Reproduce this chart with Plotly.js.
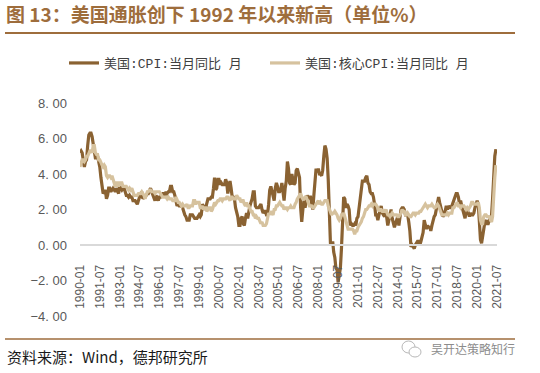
<!DOCTYPE html>
<html><head><meta charset="utf-8">
<script src="https://cdn.plot.ly/plotly-3.0.1.min.js"></script>
<style>html,body{margin:0;padding:0;background:#fff}#chart{width:540px;height:373px}</style>
</head><body><div id="chart"></div>
<script>
// Monthly data, starting 1990-01
const startYear = 1990;
const seriesNames = ['美国:CPI:当月同比 月', '美国:核心CPI:当月同比 月'];
const cpi = [
 5.2,5.3,5.2,4.7,4.4,4.7,4.8,5.6,6.2,6.3,6.3,6.1,
 5.7,5.3,4.9,4.9,5.0,4.7,4.4,3.8,3.4,2.9,3.0,3.1,
 2.6,2.8,3.2,3.2,3.0,3.1,3.2,3.1,3.0,3.2,3.0,2.9,
 3.3,3.2,3.1,3.2,3.2,3.0,2.8,2.8,2.7,2.8,2.7,2.7,
 2.5,2.5,2.5,2.4,2.3,2.5,2.8,2.9,3.0,2.6,2.7,2.7,
 2.8,2.9,2.9,3.1,3.2,3.0,2.8,2.6,2.5,2.8,2.6,2.5,
 2.7,2.7,2.8,2.9,2.9,2.8,3.0,2.9,3.0,3.0,3.3,3.3,
 3.0,3.0,2.8,2.5,2.2,2.3,2.2,2.2,2.2,2.1,1.8,1.7,
 1.6,1.4,1.4,1.4,1.7,1.7,1.7,1.6,1.5,1.5,1.5,1.6,
 1.7,1.6,1.7,2.3,2.1,2.0,2.1,2.3,2.6,2.6,2.6,2.7,
 2.7,3.2,3.8,3.1,3.2,3.7,3.7,3.4,3.5,3.4,3.4,3.4,
 3.7,3.5,2.9,3.3,3.6,3.2,2.7,2.7,2.6,2.1,1.9,1.6,
 1.1,1.1,1.5,1.6,1.2,1.1,1.5,1.8,1.5,2.0,2.2,2.4,
 2.6,3.0,3.0,2.2,2.1,2.1,2.1,2.2,2.3,2.0,1.8,1.9,
 1.9,1.7,1.7,2.3,3.1,3.3,3.0,2.7,2.5,3.2,3.5,3.3,
 3.0,3.0,3.1,3.5,2.8,2.5,3.2,3.6,4.7,4.3,3.5,3.4,
 4.0,3.6,3.4,3.5,4.2,4.3,4.1,3.8,2.1,1.3,2.0,2.5,
 2.1,2.4,2.8,2.6,2.7,2.7,2.4,2.0,2.8,3.5,4.3,4.1,
 4.3,4.0,4.0,3.9,4.2,5.0,5.6,5.4,4.9,3.7,1.1,0.1,
 0.0,0.2,-0.4,-0.7,-1.3,-1.4,-2.1,-1.5,-1.3,-0.2,1.8,2.7,
 2.6,2.1,2.3,2.2,2.0,1.1,1.2,1.1,1.1,1.2,1.1,1.5,
 1.6,2.1,2.7,3.2,3.6,3.6,3.6,3.8,3.9,3.5,3.4,3.0,
 2.9,2.9,2.7,2.3,1.7,1.7,1.4,1.7,2.0,2.2,1.8,1.7,
 1.6,2.0,1.5,1.1,1.4,1.8,2.0,1.5,1.2,1.0,1.2,1.5,
 1.6,1.1,1.5,2.0,2.1,2.1,2.0,1.7,1.7,1.7,1.3,0.8,
 -0.1,0.0,-0.1,-0.2,0.0,0.1,0.2,0.2,0.0,0.2,0.5,0.7,
 1.4,1.0,0.9,1.1,1.0,1.0,0.8,1.1,1.5,1.6,1.7,2.1,
 2.5,2.7,2.4,2.2,1.9,1.6,1.7,1.9,2.2,2.0,2.2,2.1,
 2.1,2.2,2.4,2.5,2.8,2.9,2.9,2.7,2.3,2.5,2.2,1.9,
 1.6,1.5,1.9,2.0,1.8,1.6,1.8,1.7,1.7,1.8,2.1,2.3,
 2.5,2.3,1.5,0.3,0.1,0.6,1.0,1.3,1.4,1.2,1.2,1.4,
 1.4,1.7,2.6,4.2,5.0,5.4
];
const coreCpi = [
 4.4,4.6,4.8,4.8,4.7,4.8,5.0,5.0,5.2,5.3,5.3,5.2,
 5.6,5.6,5.2,5.1,5.1,4.8,4.8,4.6,4.5,4.4,4.5,4.4,
 3.9,3.8,3.9,3.9,3.8,3.9,3.7,3.5,3.3,3.5,3.5,3.3,
 3.5,3.5,3.5,3.3,3.3,3.3,3.3,3.2,3.1,3.2,3.1,3.2,
 2.9,2.8,2.8,2.8,2.8,2.9,2.9,2.9,3.0,2.9,2.8,2.6,
 2.9,3.0,3.0,3.1,3.1,3.0,3.0,3.0,2.9,3.0,3.0,3.0,
 3.0,2.9,2.8,2.7,2.7,2.7,2.7,2.6,2.7,2.6,2.6,2.6,
 2.5,2.5,2.5,2.7,2.5,2.4,2.4,2.3,2.2,2.3,2.2,2.2,
 2.2,2.3,2.1,2.1,2.2,2.2,2.2,2.5,2.5,2.3,2.4,2.4,
 2.4,2.1,2.1,2.2,2.0,2.1,2.1,1.9,2.0,2.1,2.1,1.9,
 2.0,2.2,2.4,2.3,2.4,2.5,2.5,2.6,2.6,2.5,2.6,2.6,
 2.6,2.7,2.7,2.6,2.5,2.7,2.7,2.6,2.6,2.6,2.8,2.7,
 2.6,2.6,2.4,2.5,2.5,2.3,2.2,2.4,2.2,2.2,2.0,1.9,
 1.9,1.7,1.7,1.5,1.6,1.5,1.5,1.3,1.2,1.3,1.1,1.1,
 1.1,1.2,1.6,1.8,1.7,1.9,1.8,1.7,2.0,2.0,2.2,2.2,
 2.3,2.4,2.3,2.2,2.2,2.0,2.1,2.1,2.0,2.1,2.1,2.2,
 2.1,2.1,2.1,2.3,2.4,2.6,2.7,2.8,2.9,2.7,2.6,2.6,
 2.7,2.7,2.5,2.3,2.2,2.2,2.2,2.1,2.1,2.2,2.3,2.4,
 2.5,2.3,2.4,2.3,2.3,2.4,2.5,2.5,2.5,2.2,2.0,1.8,
 1.7,1.8,1.8,1.9,1.8,1.7,1.5,1.4,1.5,1.7,1.7,1.8,
 1.6,1.3,1.1,0.9,0.9,0.9,0.9,0.9,0.8,0.6,0.8,0.8,
 1.0,1.1,1.2,1.3,1.5,1.6,1.8,2.0,2.0,2.1,2.2,2.2,
 2.3,2.2,2.3,2.3,2.3,2.2,2.1,1.9,2.0,2.0,1.9,1.9,
 1.9,2.0,1.9,1.7,1.7,1.6,1.7,1.8,1.7,1.7,1.7,1.7,
 1.6,1.6,1.7,1.8,2.0,1.9,1.9,1.7,1.7,1.8,1.7,1.6,
 1.6,1.7,1.8,1.8,1.7,1.8,1.8,1.8,1.9,1.9,2.0,2.1,
 2.2,2.3,2.2,2.1,2.2,2.2,2.2,2.3,2.2,2.1,2.1,2.2,
 2.3,2.2,2.0,1.9,1.7,1.7,1.7,1.7,1.7,1.8,1.7,1.8,
 1.8,1.8,2.1,2.1,2.2,2.3,2.4,2.2,2.2,2.1,2.2,2.2,
 2.2,2.1,2.0,2.1,2.0,2.1,2.2,2.4,2.4,2.3,2.3,2.3,
 2.3,2.4,2.1,1.4,1.2,1.2,1.6,1.7,1.7,1.6,1.6,1.6,
 1.4,1.3,1.6,3.0,3.8,4.5
];
const yTickVals = [-4, -2, 0, 2, 4, 6, 8];
const yTickText = ['−4. 00', '−2. 00', '0. 00', '2. 00', '4. 00', '6. 00', '8. 00'];
const titleText = '图 13：美国通胀创下 1992 年以来新高（单位%）';
const sourceText = '资料来源：Wind，德邦研究所';
const watermarkText = '吴开达策略知行';

// month labels
const dates = cpi.map((_, i) => {
  const y = startYear + Math.floor(i / 12);
  const m = (i % 12) + 1;
  return y + '-' + String(m).padStart(2, '0') + '-01';
});

const W = 540, H = 373;
const M = {l: 80, r: 43, t: 103, b: 57};
const PW = W - M.l - M.r, PH = H - M.t - M.b;
const px = x => (x - M.l) / PW;
const py = y => (H - M.b - y) / PH;

const cjk = '"Noto Sans CJK SC", "Noto Sans", sans-serif';
const legendFont = '"Liberation Mono", "Noto Sans CJK SC", monospace';
const brown = '#8A6232', beige = '#D6C29E', accent = '#9E6D3C';

const traces = [
  {x: dates, y: cpi, name: seriesNames[0], type: 'scatter', mode: 'lines',
   line: {color: brown, width: 3.2}, legend: 'legend'},
  {x: dates, y: coreCpi, name: seriesNames[1], type: 'scatter', mode: 'lines',
   line: {color: beige, width: 3.2}, legend: 'legend2'}
];

const legendBase = {
  orientation: 'h', xref: 'container', xanchor: 'left',
  y: 1 - 63 / H, yref: 'container', yanchor: 'middle',
  font: {family: legendFont, size: 13, color: '#404040'},
  bgcolor: 'rgba(0,0,0,0)', borderwidth: 0
};

const layout = {
  width: W, height: H,
  margin: M,
  paper_bgcolor: '#fff', plot_bgcolor: '#fff',
  showlegend: true,
  title: {text: titleText, x: 6 / W, xref: 'container', xanchor: 'left',
          y: 1 - 15 / H, yref: 'container', yanchor: 'middle',
          font: {family: cjk, size: 19, color: accent, weight: 'bold'}},
  legend: Object.assign({}, legendBase, {x: 64 / W}),
  legend2: Object.assign({}, legendBase, {x: 265 / W}),
  xaxis: {type: 'date', range: ['1990-01-01', '2021-07-01'],
          anchor: 'free', position: 1 / 3,
          showline: true, linecolor: '#D9D9D9', linewidth: 2,
          showgrid: false, zeroline: false,
          tick0: '1990-01-01', dtick: 'M18', tickformat: '%Y-%m',
          tickangle: -90, ticks: '', ticklabelstandoff: 14,
          tickfont: {family: 'Liberation Sans, Arial, sans-serif', size: 12, color: '#595959'}},
  yaxis: {range: [-4, 8], tickvals: yTickVals, ticktext: yTickText,
          showgrid: false, zeroline: false, showline: false,
          ticks: '', ticklabelstandoff: 12,
          tickfont: {family: 'Liberation Sans, Arial, sans-serif', size: 13, color: '#595959'}},
  shapes: [
    {type: 'line', xref: 'paper', yref: 'paper', x0: px(5), x1: px(515), y0: py(33), y1: py(33),
     line: {color: accent, width: 2}},
    {type: 'line', xref: 'paper', yref: 'paper', x0: px(5), x1: px(515), y0: py(339), y1: py(339),
     line: {color: accent, width: 1.5}},
    {type: 'circle', xref: 'paper', yref: 'paper', x0: px(402), x1: px(415), y0: py(353), y1: py(341),
     line: {color: '#B8B8B8', width: 1}, fillcolor: '#fff'},
    {type: 'circle', xref: 'paper', yref: 'paper', x0: px(409), x1: px(421), y0: py(357), y1: py(347),
     line: {color: '#B8B8B8', width: 1}, fillcolor: '#fff'}
  ],
  annotations: [
    {text: sourceText, xref: 'paper', yref: 'paper', x: px(5), y: py(356),
     xanchor: 'left', yanchor: 'middle', showarrow: false,
     font: {family: cjk, size: 15, color: '#1a1a1a'}},
    {text: watermarkText, xref: 'paper', yref: 'paper', x: px(429), y: py(348),
     xanchor: 'left', yanchor: 'middle', showarrow: false,
     font: {family: cjk, size: 12, color: '#8C8C8C'}}
  ]
};

Plotly.newPlot('chart', traces, layout, {displayModeBar: false, staticPlot: true});
</script>
</body></html>
